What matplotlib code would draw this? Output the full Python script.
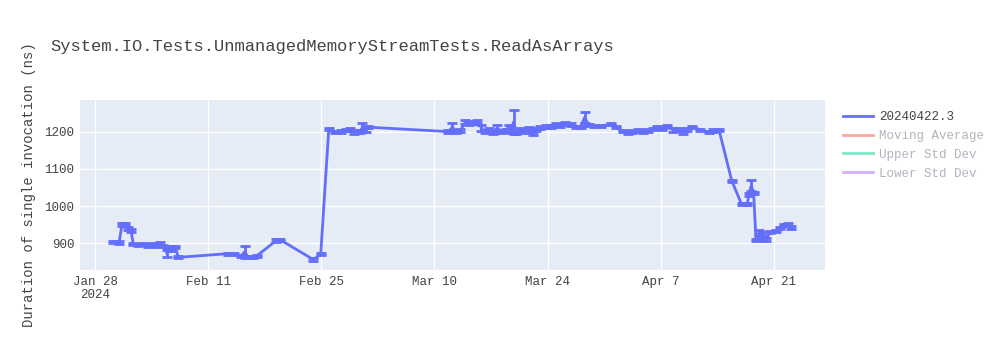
import matplotlib
matplotlib.use("Agg")
import matplotlib.pyplot as plt
from matplotlib.lines import Line2D
import pandas as pd

# ============================
# DATA
# ============================
dates = [
    "2024-01-30 06:00", "2024-01-30 23:00", "2024-01-31 08:00", "2024-01-31 17:00",
    "2024-02-01 02:00", "2024-02-01 11:00", "2024-02-01 17:00", "2024-02-02 07:00",
    "2024-02-02 22:00", "2024-02-03 14:00", "2024-02-04 02:00", "2024-02-04 14:00",
    "2024-02-05 01:00", "2024-02-05 10:00", "2024-02-05 22:00", "2024-02-06 07:00",
    "2024-02-06 12:00", "2024-02-06 22:00", "2024-02-07 07:00", "2024-02-13 12:00",
    "2024-02-14 05:00", "2024-02-15 00:00", "2024-02-15 12:00", "2024-02-16 00:00",
    "2024-02-16 12:00", "2024-02-17 00:00", "2024-02-19 10:00", "2024-02-19 22:00",
    "2024-02-24 00:00", "2024-02-24 22:00", "2024-02-25 22:00", "2024-02-26 17:00",
    "2024-02-27 10:00", "2024-02-28 00:00", "2024-02-28 14:00", "2024-02-29 00:00",
    "2024-02-29 07:00", "2024-02-29 19:00", "2024-03-01 02:00", "2024-03-01 12:00",
    "2024-03-01 19:00", "2024-03-11 17:00", "2024-03-12 05:00", "2024-03-12 17:00",
    "2024-03-13 05:00", "2024-03-13 19:00", "2024-03-14 07:00", "2024-03-14 19:00",
    "2024-03-15 07:00", "2024-03-15 19:00", "2024-03-16 05:00", "2024-03-16 17:00",
    "2024-03-17 05:00", "2024-03-17 19:00", "2024-03-18 07:00", "2024-03-18 19:00",
    "2024-03-19 05:00", "2024-03-19 12:00", "2024-03-19 19:00", "2024-03-20 02:00",
    "2024-03-20 17:00", "2024-03-21 05:00", "2024-03-21 17:00", "2024-03-22 05:00",
    "2024-03-22 14:00", "2024-03-23 02:00", "2024-03-23 19:00", "2024-03-24 10:00",
    "2024-03-25 00:00", "2024-03-25 14:00", "2024-03-26 05:00", "2024-03-26 22:00",
    "2024-03-27 12:00", "2024-03-28 02:00", "2024-03-28 14:00", "2024-03-29 02:00",
    "2024-03-29 17:00", "2024-03-30 14:00", "2024-03-31 19:00", "2024-04-01 10:00",
    "2024-04-02 07:00", "2024-04-02 22:00", "2024-04-03 12:00", "2024-04-04 05:00",
    "2024-04-04 19:00", "2024-04-05 10:00", "2024-04-06 00:00", "2024-04-06 14:00",
    "2024-04-07 05:00", "2024-04-07 19:00", "2024-04-08 12:00", "2024-04-09 02:00",
    "2024-04-09 17:00", "2024-04-10 07:00", "2024-04-10 22:00", "2024-04-11 22:00",
    "2024-04-12 22:00", "2024-04-13 10:00", "2024-04-14 05:00", "2024-04-15 19:00",
    "2024-04-17 00:00", "2024-04-17 17:00", "2024-04-17 22:00", "2024-04-18 05:00",
    "2024-04-18 12:00", "2024-04-18 19:00", "2024-04-19 05:00", "2024-04-19 10:00",
    "2024-04-19 17:00", "2024-04-20 00:00", "2024-04-20 14:00", "2024-04-21 07:00",
    "2024-04-21 19:00", "2024-04-22 07:00", "2024-04-22 19:00", "2024-04-23 02:00",
]

durations = [
    903, 902, 950, 952, 940, 933, 897, 896, 898, 893, 897, 895, 898, 893, 872, 888,
    882, 890, 862, 872, 870, 865, 876, 862, 862, 866, 907, 909, 856, 870, 1207, 1199,
    1200, 1204, 1205, 1198, 1200, 1200, 1212, 1205, 1212, 1200, 1212, 1200, 1203, 1225,
    1222, 1225, 1228, 1210, 1200, 1205, 1198, 1210, 1200, 1202, 1212, 1205, 1226, 1197,
    1205, 1200, 1208, 1195, 1205, 1210, 1215, 1213, 1218, 1215, 1222, 1218, 1213, 1213,
    1238, 1218, 1215, 1215, 1220, 1212, 1202, 1198, 1200, 1202, 1200, 1203, 1207, 1212,
    1207, 1215, 1205, 1205, 1198, 1205, 1212, 1205, 1198, 1203, 1205, 1068, 1005, 1005,
    1030, 1055, 1035, 908, 930, 910, 925, 910, 930, 932, 940, 948, 950, 942,
]

errors = [
    3, 3, 4, 3, 4, 4, 3, 3, 3, 4, 3, 4, 4, 3, 10, 4,
    4, 3, 3, 3, 3, 3, 16, 3, 3, 3, 3, 3, 3, 3, 3, 3,
    3, 3, 4, 4, 5, 4, 12, 5, 3, 3, 12, 4, 4, 5,
    4, 4, 4, 8, 4, 4, 4, 8, 4, 4, 5, 8, 32, 4,
    4, 4, 4, 4, 4, 4, 4, 4, 4, 3, 3, 4, 3, 3,
    15, 3, 3, 3, 3, 3, 3, 4, 5, 4, 3, 3, 3, 3,
    3, 3, 5, 4, 4, 4, 3, 3, 3, 3, 3, 3, 3, 3,
    4, 15, 4, 3, 5, 4, 5, 3, 3, 3, 3, 3, 4, 3,
]

series_name = "20240422.3"
legend_names = [series_name, "Moving Average", "Upper Std Dev", "Lower Std Dev"]
title = "System.IO.Tests.UnmanagedMemoryStreamTests.ReadAsArrays"
y_label = "Duration of single invocation (ns)"

x = pd.to_datetime(dates)

# ============================
# DRAW
# ============================
plt.rcParams["font.family"] = ["Liberation Mono", "DejaVu Sans Mono"]

fig = plt.figure(figsize=(10, 3.5), dpi=100)
ax = fig.add_axes([0.08, 0.2286, 0.745, 0.4857])
ax.set_facecolor("#E5ECF6")

ax.errorbar(x, durations, yerr=errors, fmt="-", color="#636efa", linewidth=2,
            elinewidth=2, capsize=3.5, capthick=2, zorder=3)

ax.set_xlim(pd.Timestamp("2024-01-26 03:00"), pd.Timestamp("2024-04-27 08:00"))
ax.set_ylim(828, 1285)

ticks = pd.to_datetime(["2024-01-28", "2024-02-11", "2024-02-25", "2024-03-10",
                        "2024-03-24", "2024-04-07", "2024-04-21"])
ax.set_xticks(ticks)
ax.set_xticklabels(["Jan 28\n2024", "Feb 11", "Feb 25", "Mar 10", "Mar 24", "Apr 7", "Apr 21"])
ax.set_yticks([900, 1000, 1100, 1200])

ax.grid(True, color="white", linewidth=1)
ax.set_axisbelow(True)
for s in ax.spines.values():
    s.set_visible(False)
ax.tick_params(length=0, labelsize=9, colors="#444444", pad=4)

ax.set_ylabel(y_label, fontsize=10, color="#444444", labelpad=6)
fig.text(0.05, 0.868, title, fontsize=12.3, color="#444444", va="center")

# legend: first entry visible, others faded (legend-only)
handles = [
    Line2D([], [], color="#636efa", linewidth=2),
    Line2D([], [], color="#EF553B", alpha=0.5, linewidth=2),
    Line2D([], [], color="#00cc96", alpha=0.5, linewidth=2),
    Line2D([], [], color="#ab63fa", alpha=0.5, linewidth=2),
]
leg = fig.legend(handles, legend_names, loc="upper left", bbox_to_anchor=(0.838, 0.697),
                 frameon=False, fontsize=9, handlelength=2.4, handletextpad=0.5,
                 labelspacing=0.55, borderaxespad=0)
for i, t in enumerate(leg.get_texts()):
    t.set_color("#444444" if i == 0 else "#b0b4bc")

fig.savefig("out.png", dpi=100)
